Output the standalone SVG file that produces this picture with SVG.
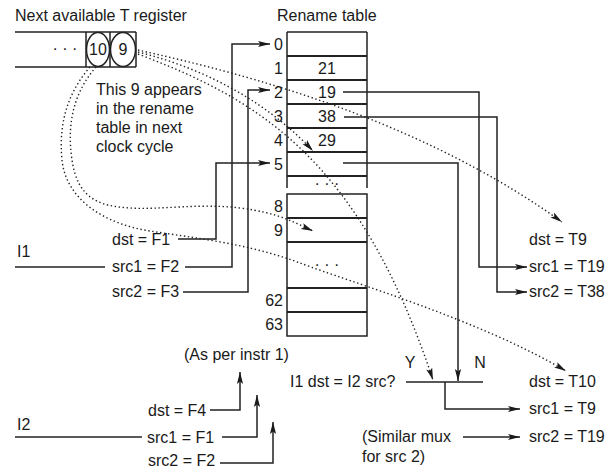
<svg xmlns="http://www.w3.org/2000/svg" width="608" height="469" viewBox="0 0 608 469">
<style>
text{font-family:"Liberation Sans",Arial,sans-serif;font-size:16px;fill:#1a1a1a}
.ln{fill:none;stroke:#222;stroke-width:1.5}
.rl{fill:none;stroke:#222;stroke-width:2}
.dot{fill:none;stroke:#222;stroke-width:1.4;stroke-dasharray:1.4 2.6}
.e{text-anchor:end}
.m{text-anchor:middle}
</style>
<defs>
<marker id="ah" markerUnits="userSpaceOnUse" markerWidth="12" markerHeight="8" viewBox="0 0 12 8" refX="12" refY="4" orient="auto">
<path d="M0,0.9 L12,4 L0,7.1 L2.5,4 z" fill="#1a1a1a"/>
</marker>
</defs>
<rect width="608" height="469" fill="#fff"/>

<g id="register">
<text x="15" y="21">Next available T register</text>
<path class="ln" d="M15 32 H136 M15 67 H136 M86 32 V67 M110 32 V67 M136 32 V67"/>
<ellipse class="ln" cx="98" cy="49.5" rx="11.5" ry="17"/>
<ellipse class="ln" cx="123" cy="49.5" rx="12.5" ry="17"/>
<text x="98" y="55" class="m">10</text>
<text x="123" y="55" class="m">9</text>
<text x="65" y="54" class="m">· · ·</text>
</g>

<g id="note">
<text x="96" y="95">This 9 appears</text>
<text x="96" y="114">in the rename</text>
<text x="96" y="133">table in next</text>
<text x="96" y="152">clock cycle</text>
</g>

<g id="rename-table">
<text x="277" y="21">Rename table</text>
<path class="ln" d="M287 32 H367 M287 32 V188 M367 32 V188 M287 194 H367 V336 H287 Z"/>
<path class="rl" d="M287 56 H367 M287 80 H367 M287 104 H367 M287 128 H367 M287 152 H367 M287 176 H367 M287 218 H367 M287 242 H367 M287 288 H367 M287 312 H367"/>
<text x="283" y="49.5" class="e">0</text>
<text x="283" y="73.5" class="e">1</text>
<text x="283" y="97.5" class="e">2</text>
<text x="283" y="121.5" class="e">3</text>
<text x="283" y="145.5" class="e">4</text>
<text x="283" y="169.5" class="e">5</text>
<text x="283" y="211.5" class="e">8</text>
<text x="283" y="235.5" class="e">9</text>
<text x="283" y="305.5" class="e">62</text>
<text x="283" y="329.5" class="e">63</text>
<text x="327" y="73.5" class="m">21</text>
<text x="327" y="97.5" class="m">19</text>
<text x="327" y="121.5" class="m">38</text>
<text x="327" y="145.5" class="m">29</text>
<text x="327" y="189" class="m">· · ·</text>
<text x="327" y="270" class="m">· · ·</text>
</g>

<g id="instr1">
<text x="17" y="257">I1</text>
<text x="112" y="245">dst = F1</text>
<text x="112" y="272">src1 = F2</text>
<text x="112" y="297">src2 = F3</text>
</g>

<g id="instr2">
<text x="17" y="430">I2</text>
<text x="148" y="416">dst = F4</text>
<text x="147" y="443">src1 = F1</text>
<text x="148" y="466">src2 = F2</text>
<text x="184" y="360">(As per instr 1)</text>
</g>

<g id="outputs1">
<text x="529" y="245">dst = T9</text>
<text x="529" y="272">src1 = T19</text>
<text x="529" y="297">src2 = T38</text>
</g>

<g id="mux">
<text x="290" y="387">I1 dst = I2 src?</text>
<text x="410" y="368" class="m">Y</text>
<text x="480" y="368" class="m">N</text>
<text x="362" y="442">(Similar mux</text>
<text x="362" y="462">for src 2)</text>
</g>

<g id="outputs2">
<text x="529" y="387">dst = T10</text>
<text x="529" y="414">src1 = T9</text>
<text x="529" y="442">src2 = T19</text>
</g>

<g id="connectors">
<path class="ln" d="M15 267 H105"/>
<path class="ln" d="M178 239 H216 V163 H270" marker-end="url(#ah)"/>
<path class="ln" d="M185 267 H232 V44 H270" marker-end="url(#ah)"/>
<path class="ln" d="M183 292 H248 V90 H270" marker-end="url(#ah)"/>
<path class="ln" d="M343 92 H479 V267 H527" marker-end="url(#ah)"/>
<path class="ln" d="M344 117 H497 V292 H527" marker-end="url(#ah)"/>
<path class="ln" d="M343 163 H458 V381" marker-end="url(#ah)"/>
<path class="ln" d="M406 382 H483"/>
<path class="ln" d="M445 382 V409 H520" marker-end="url(#ah)"/>
<path class="ln" d="M463 437 H520" marker-end="url(#ah)"/>
<path class="ln" d="M15 437 H142"/>
<path class="ln" d="M210 410 H240 V372" marker-end="url(#ah)"/>
<path class="ln" d="M222 437 H257 V395" marker-end="url(#ah)"/>
<path class="ln" d="M220 463 H273 V422" marker-end="url(#ah)"/>
<path class="dot" d="M138 50 C250 75 420 120 562 222" marker-end="url(#ah)"/>
<path class="dot" d="M138 52 C210 70 270 105 313 151" marker-end="url(#ah)"/>
<path class="dot" d="M138 54 C260 100 360 160 433 380" marker-end="url(#ah)"/>
<path class="dot" d="M90 67 C70 90 58 120 62 160 C66 200 105 224 150 231 C195 238 250 244 300 263 C350 282 480 320 566 371" marker-end="url(#ah)"/>
<path class="dot" d="M96 67 C76 90 66 120 72 160 C78 200 100 206 130 208 C160 210 200 203 240 208 C280 213 295 223 313 231" marker-end="url(#ah)"/>
</g>
</svg>
